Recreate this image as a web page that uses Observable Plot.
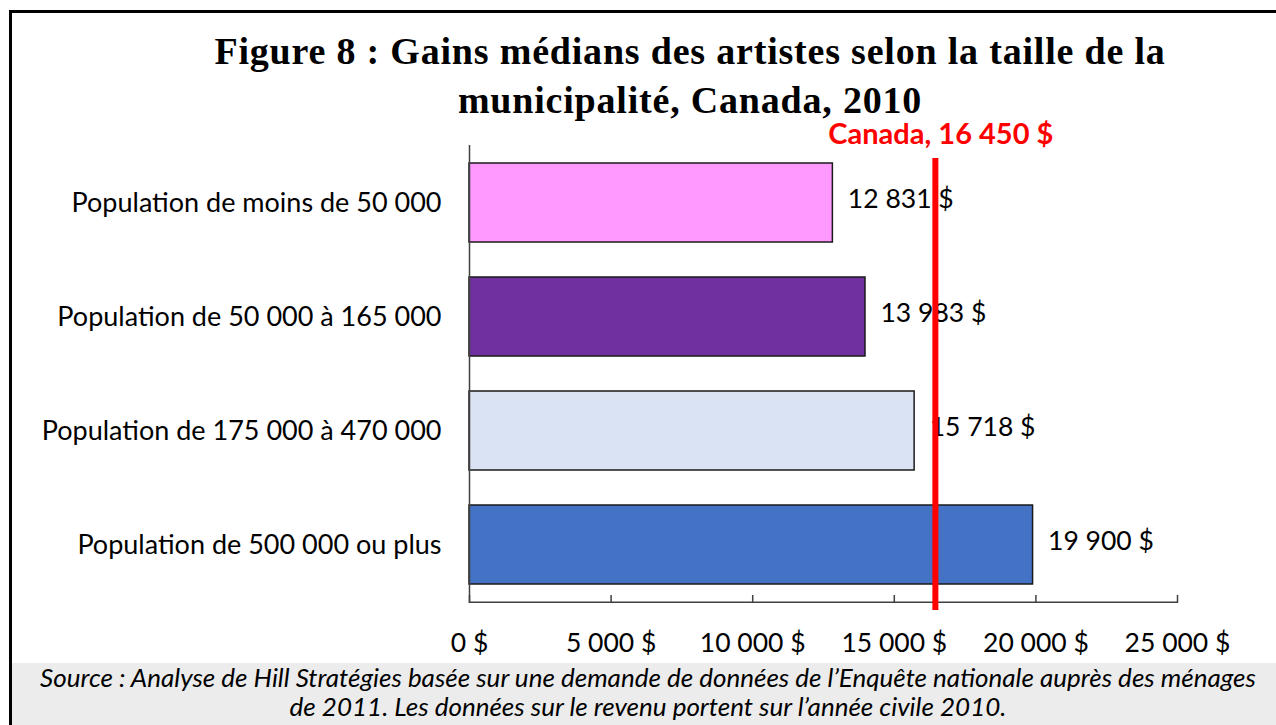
<!DOCTYPE html>
<html><head><meta charset="utf-8">
<script src="https://cdn.jsdelivr.net/npm/d3@7"></script>
<script src="https://cdn.jsdelivr.net/npm/@observablehq/plot@0.6"></script>
<style>
body{margin:0;background:#fff;}
#page{position:relative;width:1276px;height:725px;overflow:hidden;background:#fff;}
#frame{position:absolute;left:9px;top:10px;right:-5px;bottom:-5px;border-left:3px solid #000;border-top:3px solid #000;}
#title{position:absolute;left:0;width:1380px;top:27px;text-align:center;font-family:"Liberation Serif",serif;font-weight:bold;font-size:38px;line-height:49px;letter-spacing:0.8px;color:#000;white-space:nowrap;}
#chart{position:absolute;left:0;top:110px;}
#caption{position:absolute;left:12px;right:0;top:663px;bottom:0;background:#ececec;font-family:Lato,sans-serif;font-style:italic;font-size:26px;line-height:29px;text-align:center;padding-left:8px;color:#000;white-space:nowrap;}
</style></head>
<body><div id="page">
<div id="frame"></div>
<div id="title">Figure 8 : Gains médians des artistes selon la taille de la<br>municipalité, Canada, 2010</div>
<div id="chart"></div>
<div id="caption">Source : Analyse de Hill Stratégies basée sur une demande de données de l’Enquête nationale auprès des ménages<br>de 2011. Les données sur le revenu portent sur l’année civile 2010.</div>
</div>
<script>
const categories = ["Population de moins de 50 000", "Population de 50 000 à 165 000", "Population de 175 000 à 470 000", "Population de 500 000 ou plus"];
const values = [12831, 13983, 15718, 19900];
const colors = ["#ff99ff", "#7030a0", "#dae3f3", "#4472c4"];
const canadaValue = 16450;
const canadaLabel = "Canada, 16 450 $";
const xTicks = [0, 5000, 10000, 15000, 20000, 25000];

const data = categories.map((c, i) => ({category: c, value: values[i], color: colors[i]}));
const fmtNum = v => d3.formatLocale({decimal: ",", thousands: "\u00a0", grouping: [3], currency: ["", ""]}).format(",")(v) + "\u00a0$";

const marginTop = 35, marginBottom = 50, innerH = 458;
const H = marginTop + innerH + marginBottom;

const chart = Plot.plot({
  width: 1276,
  height: H,
  marginLeft: 469,
  marginRight: 99,
  marginTop,
  marginBottom,
  style: {fontFamily: "Lato, sans-serif", fontSize: "26.5px", color: "#000", background: "transparent", overflow: "visible"},
  x: {domain: [0, 25000], ticks: xTicks, tickFormat: fmtNum, label: null},
  y: {domain: categories, paddingInner: 0.306, paddingOuter: 0.153, label: null},
  color: {type: "identity"},
  marks: [
    Plot.barX(data, {x: "value", y: "category", fill: "color", stroke: "#1a1a1a", strokeWidth: 1.5}),
    Plot.ruleX([0], {stroke: "#404040", strokeWidth: 1.5}),
    Plot.barX([xTicks[xTicks.length - 1]], {x: d => d, fill: "#404040", insetTop: innerH - 1.5}),
    Plot.ruleX(xTicks, {stroke: "#404040", strokeWidth: 1.5, insetTop: innerH - 8}),
    Plot.axisX({ticks: xTicks, tickFormat: fmtNum, tickSize: 0, tickPadding: 30, fontSize: 26.5}),
    Plot.axisY({tickSize: 0, tickPadding: 28, fontSize: 27}),
    Plot.text(data, {x: "value", y: "category", text: d => fmtNum(d.value), textAnchor: "start", dx: 15, dy: -3, fontSize: 26.5, fill: "#000"}),
    Plot.ruleX([canadaValue], {stroke: "#ff0000", strokeWidth: 6, insetTop: 13, insetBottom: -7}),
    Plot.text([canadaLabel], {x: canadaValue, frameAnchor: "top", lineAnchor: "bottom", text: d => d, dx: 5.5, dy: -2, fill: "#ff0000", fontWeight: "bold", fontSize: 29})
  ]
});
document.getElementById("chart").appendChild(chart);
</script>
</body></html>
